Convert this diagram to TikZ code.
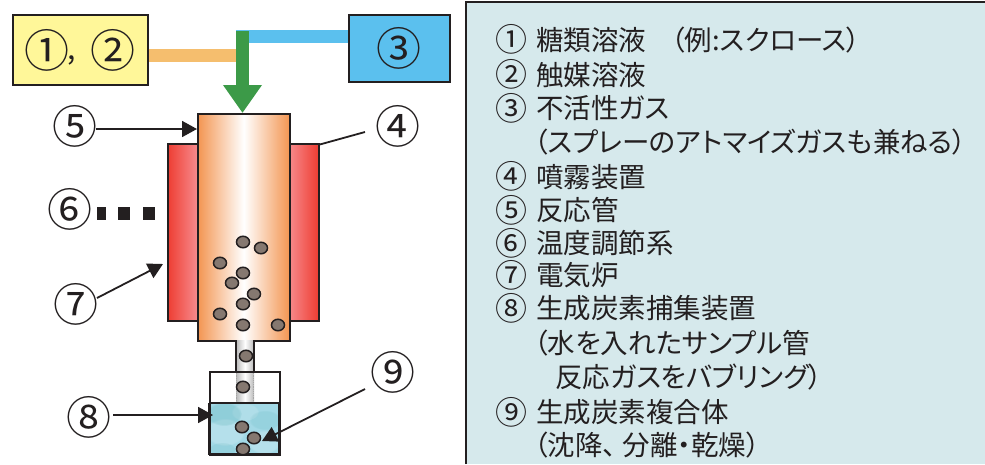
\documentclass[tikz,border=0pt]{standalone}
\usepackage{fontspec}
\setmainfont[RawFeature={+palt}]{Noto Sans CJK JP}
\usetikzlibrary{arrows.meta,shadings,fadings,shapes.geometric}
\definecolor{ink}{HTML}{231F20}
\definecolor{yellowbox}{HTML}{FFF799}
\definecolor{bluebox}{HTML}{5BC0EE}
\definecolor{orangepipe}{HTML}{F5BE6E}
\definecolor{greenpipe}{HTML}{3C9A48}
\definecolor{tubeorange}{HTML}{F39551}
\definecolor{furnred}{HTML}{EE4036}
\definecolor{furnpink}{HTML}{F78A8C}
\definecolor{panelbg}{HTML}{D6E9EC}
\definecolor{water}{HTML}{A3D9E6}
\definecolor{partfill}{HTML}{857870}
\tikzset{
  x=1pt,y=-1pt,
  box/.style={draw=ink,line width=1.5pt,inner sep=0pt,anchor=north west},
  callnum/.style={font=\fontsize{45}{45}\selectfont,inner sep=0pt,text=ink},
  listnum/.style={font=\fontsize{32}{32}\selectfont,inner sep=0pt,text=ink},
  listline/.style={font=\fontsize{27.5}{27.5}\selectfont,inner sep=0pt,anchor=west,text=ink},
  pipe/.style={line width=13pt},
  callout/.style={draw=ink,line width=1.8pt,-{Triangle[length=15pt,width=16pt]}},
  leader/.style={draw=ink,line width=1.8pt},
  particle/.style={ellipse,draw=ink,line width=1.5pt,fill=partfill,minimum width=13pt,minimum height=11.5pt,inner sep=0pt},
  dotmark/.style={fill=ink,inner sep=0pt,minimum height=13pt},
  blot/.style={path fading=circle with fuzzy edge 15 percent},
}
\begin{document}
\begin{tikzpicture}
\useasboundingbox (0,0) rectangle (985,464);
% panel
\fill[panelbg] (466,2) rectangle (985,464);
\draw[ink,line width=2.6pt] (466,464) -- (466,2) -- (985,2);
% list numbers
\foreach \yy/\txt in {39/①,74/②,108/③,176/④,210/⑤,243/⑥,275/⑦,308/⑧,412/⑨}
 \node[listnum] at (511.5,\yy) {\txt};
% list text
\foreach \yy/\xx/\txt in {
 40/536/{糖類溶液},
 75/536/{触媒溶液},
 108/536/{不活性ガス},
 142/534/{（スプレーのアトマイズガスも兼ねる）},
 177/536/{噴霧装置},
 210/536/{反応管},
 243/536/{温度調節系},
 275/536/{電気炉},
 308/536/{生成炭素捕集装置},
 343/534/{（水を入れたサンプル管},
 377/555/{反応ガスをバブリング）},
 412/536/{生成炭素複合体}}
 \node[listline] at (\xx,\yy) {\txt};
\node[listline] at (671,40) {（例:スクロース）};
\node[listline] at (534,445) {（沈降、\hspace{6pt}分離・乾燥）};
% boxes
\node[box,fill=yellowbox,minimum width=135pt,minimum height=70pt] (src) at (12,14) {};
\node[box,fill=bluebox,minimum width=101pt,minimum height=67pt] (gas) at (348,14) {};
\node[callnum] (n1) at (47,50) {①};
\node[callnum,font=\fontsize{30}{30}\selectfont] (comma) at (72,60) {,};
\node[callnum] (n2) at (113,50) {②};
\node[callnum] (n3) at (399,48) {③};
% furnace
\node[box,minimum width=150pt,minimum height=176pt,fill=furnred] (furn) at (168,144) {};
\shade[left color=furnred,right color=furnpink] (168.7,144.7) rectangle (197,319.3);
\shade[left color=furnpink,right color=furnred] (289,144.7) rectangle (317.3,319.3);
\draw[ink,line width=1.5pt] (furn.north west) rectangle (furn.south east);
% tube
\node[box,minimum width=92pt,minimum height=227pt,left color=tubeorange,right color=tubeorange,middle color=white] (tube) at (197,113) {};
% pipes
\coordinate (jo) at (237,55.5);
\coordinate (jb) at (236,36.5);
\draw[orangepipe,pipe] (src.east |- jo) -- (jo);
\draw[bluebox,pipe] (gas.west |- jb) -- (jb);
\coordinate (gtop) at (242.5,31);
\draw[greenpipe,line width=13pt,-{Triangle[length=28pt,width=37pt]}] (gtop) -- (gtop |- tube.north);
% outlet pipe
\shade[left color=gray!55,right color=gray!55,middle color=white] (236,340) rectangle (254,403);
\draw[ink,line width=2pt] (236,340) -- (236,371) (254,340) -- (254,371);
\draw[gray!70,line width=1.2pt,densely dotted] (236.5,371) -- (236.5,403) (253.5,371) -- (253.5,403);
% beaker
\fill[water] (209,403) rectangle (279,454);
\begin{scope}
\clip (209,403) rectangle (279,454);
\fill[white,opacity=.2,blot] (225,432) ellipse (20 and 14);
\fill[white,opacity=.2,blot] (264,442) ellipse (16 and 12);
\fill[white,opacity=.15,blot] (245,412) ellipse (14 and 9);
\fill[teal,opacity=.12,blot] (224,414) ellipse (18 and 12);
\fill[teal,opacity=.08,blot] (265,420) ellipse (16 and 10);
\fill[teal,opacity=.08,blot] (222,450) ellipse (14 and 8);
\end{scope}
\node[box,minimum width=70pt,minimum height=83pt,line width=1.6pt] (beaker) at (209,371) {};
\draw[ink,line width=1.5pt] (209,403) -- (279,403);
\draw[ink,line width=1.9pt] (209,403) -- (209,454) -- (279,454) -- (279,403);
% particles
\foreach \i/\px/\py in {a/243/242,b/261/248,c/220/263,d/243/273,e/232/283,f/254/294,g/243/304,h/220/314,k/243/325,l/278/325,m/246/356,o/243/387,p/242/427,q/254/438,r/243/449}
 \node[particle] (part\i) at (\px,\py) {};
% callouts
\node[callnum] (n5) at (75,126) {⑤};
\node[callnum] (n4) at (398,126) {④};
\node[callnum] (n6) at (70,209) {⑥};
\node[callnum] (n7) at (76,304) {⑦};
\node[callnum] (n8) at (89,417) {⑧};
\node[callnum] (n9) at (393,372) {⑨};
\coordinate (a5s) at (96,129); \coordinate (a5e) at (197,129);
\coordinate (a4s) at (365,132); \coordinate (a4e) at (318,145);
\coordinate (a7s) at (97,298); \coordinate (a7e) at (163,264);
\coordinate (a8s) at (113,415); \coordinate (a8e) at (213,415);
\coordinate (a9s) at (365,389); \coordinate (a9e) at (262,441);
\draw[callout] (a5s) -- (a5e);
\draw[leader] (a4s) -- (a4e);
\draw[callout] (a7s) -- (a7e);
\draw[callout] (a8s) -- (a8e);
\draw[callout] (a9s) -- (a9e);
\node[dotmark,minimum width=9pt] (d1) at (101,213.5) {};
\node[dotmark,minimum width=12pt] (d2) at (124,213.5) {};
\node[dotmark,minimum width=12pt] (d3) at (149,213.5) {};
\end{tikzpicture}
\end{document}
